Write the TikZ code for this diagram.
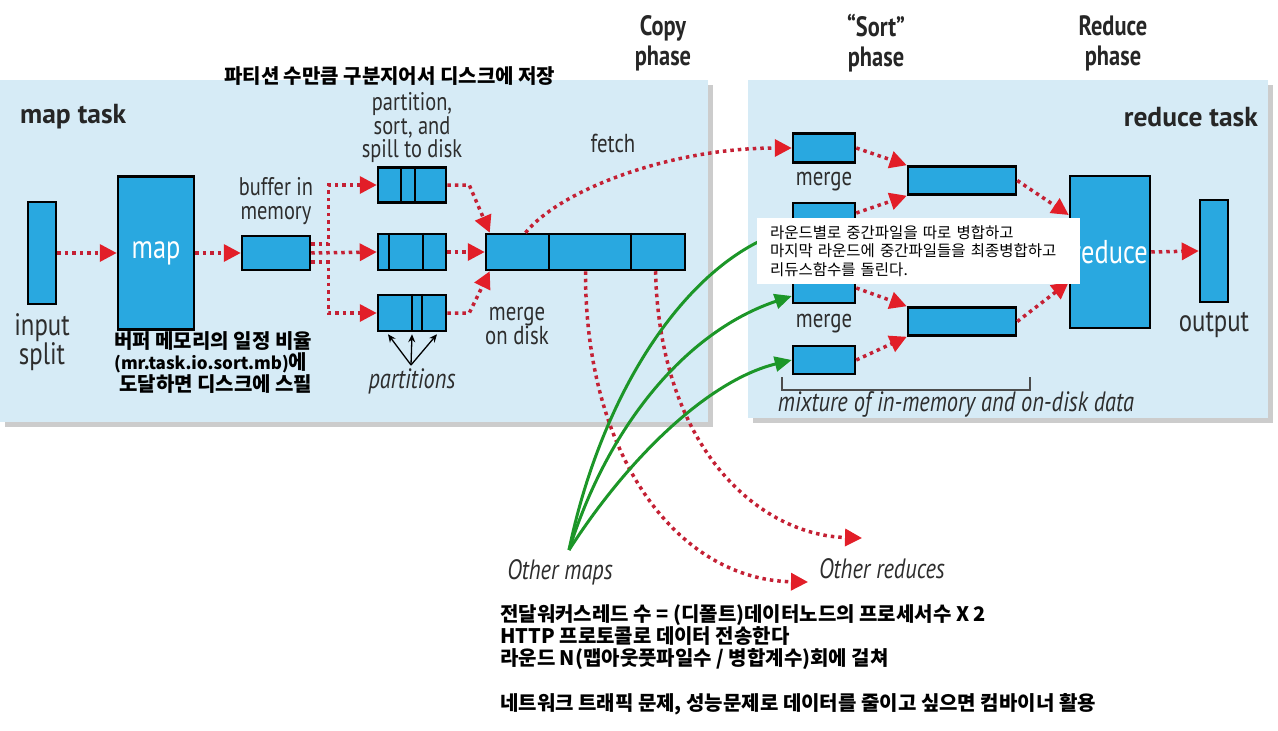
\documentclass[tikz,border=0pt]{standalone}
\usepackage{fontspec}
\setmainfont{PT Sans}[FakeStretch=0.8]
\newfontfamily\titlefont{PT Sans}
\newfontfamily\krfont{Noto Sans CJK KR}
\usetikzlibrary{arrows.meta,shadows}
\definecolor{panelBlue}{RGB}{214,235,246}
\definecolor{boxBlue}{RGB}{41,168,224}
\definecolor{dotRed}{RGB}{196,32,52}
\definecolor{tipRed}{RGB}{226,30,40}
\definecolor{arrowGreen}{RGB}{28,150,40}
\definecolor{labelGray}{RGB}{45,45,45}

\begin{document}
\begin{tikzpicture}
[x=1pt, y=-1pt,
 panelDecorate/.style={fill=panelBlue, inner sep=0pt, drop shadow={shadow xshift=5pt, shadow yshift=-5pt, fill=black!40}},
 boxDecorate/.style={draw=black, line width=2.5pt, fill=boxBlue, inner sep=0pt},
 dotDecorate/.style={draw=dotRed, line width=3.5pt, dash pattern=on 3.5pt off 4pt, -{Triangle[length=17pt,width=17pt,color=tipRed]}},
 greenDecorate/.style={draw=arrowGreen, line width=3pt, -{Triangle[length=17pt,width=15pt]}},
 partDecorate/.style={draw=black, line width=1.3pt, -{Stealth[length=8pt,width=7pt]}},
 labelDecorate/.style={text=labelGray, align=center, inner sep=0pt, font=\fontsize{26}{23}\selectfont},
 bigDecorate/.style={labelDecorate, font=\fontsize{31}{27}\selectfont},
 italicDecorate/.style={labelDecorate, font=\fontsize{28}{23}\selectfont\itshape},
 phaseDecorate/.style={text=black!85, align=center, inner sep=0pt, font=\fontsize{28}{30}\selectfont\bfseries},
 titleDecorate/.style={text=black!85, inner sep=0pt, font=\titlefont\fontsize{27.5}{30}\selectfont\bfseries},
 krDecorate/.style={align=left, inner sep=0pt, anchor=north west, font={\krfont\fontsize{20}{22.3}\selectfont\bfseries}}]

 \useasboundingbox (0,0) rectangle (1278,731);

 % panels
 \node (mapPanel) [panelDecorate, minimum width=708pt, minimum height=342pt] at (354,251) {};
 \node (redPanel) [panelDecorate, minimum width=520pt, minimum height=338pt] at (1008,249) {};

 \node (mapTask) [titleDecorate, anchor=west] at (20,117) {map task};
 \node (reduceTask) [titleDecorate, anchor=east] at (1258,117) {reduce task};

 \node (copyPhase) [phaseDecorate] at (663,43) {Copy\\phase};
 \node (sortPhase) [phaseDecorate] at (876,43) {``Sort''\\phase};
 \node (reducePhase) [phaseDecorate] at (1113,43) {Reduce\\phase};

 % map side
 \node (split) [boxDecorate, minimum width=28pt, minimum height=102pt] at (42,253) {};
 \node (map) [boxDecorate, minimum width=76pt, minimum height=153pt, text=white, font=\fontsize{33}{30}\selectfont] at (156,253) {map};
 \node (buf) [boxDecorate, minimum width=68pt, minimum height=34pt] at (276,253) {};

 \node (sp1) [boxDecorate, minimum width=68pt, minimum height=35pt] at (412,185) {};
 \node (sp2) [boxDecorate, minimum width=68pt, minimum height=36pt] at (412,252) {};
 \node (sp3) [boxDecorate, minimum width=68pt, minimum height=36pt] at (412,313) {};
 \node (disk) [boxDecorate, minimum width=199pt, minimum height=36pt] at (585.5,252) {};

 \foreach \boxname/\dx in {sp1/-11, sp1/3, sp2/-23, sp2/11, sp3/0, sp3/10, disk/-36.5, disk/45.5}
 {
   \draw[line width=2.5pt] ([xshift=\dx pt]\boxname.north) -- ([xshift=\dx pt]\boxname.south);
 }

 \node (splitLabel) [bigDecorate] at (42,342) {input\\split};
 \node (bufLabel) [labelDecorate, font=\fontsize{25.5}{24}\selectfont] at (276,201) {buffer in\\memory};
 \node (spillLabel) [labelDecorate, font=\fontsize{25.5}{23.5}\selectfont] at (412,128) {partition,\\sort, and\\spill to disk};
 \node (diskLabel) [labelDecorate] at (517,326) {merge\\on disk};
 \node (partLabel) [italicDecorate] at (412,381) {partitions};
 \node (fetchLabel) [labelDecorate] at (613,143) {fetch};
 \coordinate (pconv) at (411,365);

 % reduce side
 \node (rm1) [boxDecorate, minimum width=62pt, minimum height=29pt] at (824,148) {};
 \node (rm2) [boxDecorate, minimum width=62pt, minimum height=100pt] at (824,253) {};
 \node (rm3) [boxDecorate, minimum width=62pt, minimum height=28pt] at (824,360) {};
 \node (mid1) [boxDecorate, minimum width=108pt, minimum height=28pt] at (962,180.5) {};
 \node (mid2) [boxDecorate, minimum width=108pt, minimum height=28pt] at (962,321.5) {};
 \node (red) [boxDecorate, minimum width=80pt, minimum height=152pt, text=white, font=\fontsize{33}{30}\selectfont] at (1110,252) {reduce};
 \node (out) [boxDecorate, minimum width=28pt, minimum height=102pt] at (1214,251) {};

 \node (rm1Label) [labelDecorate] at (824,182) {merge};
 \node (rm2Label) [labelDecorate] at (824,324) {merge};
 \node (outLabel) [bigDecorate] at (1214,325) {output};
 \node (mixLabel) [italicDecorate] at (956,404) {mixture of in-memory and on-disk data};
 \draw[line width=1.5pt, black!70] (782,377) -- (782,390) -- (1030,390) -- (1030,377);

 % outside
 \node (otherMaps) [italicDecorate] at (560,572) {Other maps};
 \node (otherReduces) [italicDecorate] at (882,569) {Other reduces};
 \coordinate (gsrc) at (569,550);
 \coordinate (oredA) at (808,582);
 \coordinate (oredB) at (862,538);

 % dotted arrows
 \draw[dotDecorate] (split) -- (map);
 \draw[dotDecorate] (map) -- (buf);
 \draw[dotDecorate] ([yshift=9pt]buf.east) -- ++(17,0) |- (sp1.west);
 \draw[dotDecorate] (buf.east) -- (sp2.west);
 \draw[dotDecorate] ([yshift=-9pt]buf.east) -- ++(17,0) |- (sp3.west);
 \draw[dotDecorate] (sp1.east) -- ++(22,0) -- ([xshift=5pt]disk.north west);
 \draw[dotDecorate] (sp2.east) -- (disk.west);
 \draw[dotDecorate] (sp3.east) -- ++(22,0) -- ([xshift=5pt]disk.south west);

 \draw[dotDecorate] ([xshift=-60pt]disk.north) .. controls (560,190) and (670,148) .. (rm1.west);
 \draw[dotDecorate] (disk.south) .. controls (585,460) and (680,580) .. (oredA);
 \draw[dotDecorate] ([xshift=70pt]disk.south) .. controls (660,450) and (760,535) .. (oredB);

 \draw[dotDecorate] (rm1.east) -- (mid1.north west);
 \draw[dotDecorate] ([yshift=40pt]rm2.east) -- (mid1.south west);
 \draw[dotDecorate] ([yshift=-35pt]rm2.east) -- (mid2.north west);
 \draw[dotDecorate] (rm3.east) -- (mid2.south west);
 \draw[dotDecorate] (mid1.east) -- ([yshift=37pt]red.west);
 \draw[dotDecorate] (mid2.east) -- ([yshift=-30pt]red.west);
 \draw[dotDecorate] (red.east) -- (out.west);

 % partitions
 \foreach \dx in {-24,0,25}
 {
   \draw[partDecorate] (pconv) -- ([xshift=\dx pt, yshift=-2pt]sp3.south);
 }

 % green arrows
 \draw[greenDecorate] (gsrc) .. controls (600,400) and (680,270) .. ([yshift=25pt]rm2.west);
 \draw[greenDecorate] (gsrc) .. controls (610,420) and (690,330) .. ([yshift=-43pt]rm2.west);
 \draw[greenDecorate] (gsrc) .. controls (630,455) and (710,380) .. (rm3.west);

 % korean notes
 \node (noteTop) [krDecorate, anchor=west] at (224,76) {파티션 수만큼 구분지어서 디스크에 저장};
 \node (noteSpill) [krDecorate, font={\krfont\fontsize{20}{21.5}\selectfont\bfseries}] at (114,331) {버퍼 메모리의 일정 비율\\{\fontsize{17}{21.5}\selectfont(mr.task.io.sort.mb)}에\\\hspace{5pt}도달하면 디스크에 스필};
 \node (noteRound) [fill=white, inner sep=0pt, minimum width=323pt, minimum height=66pt, text width=297pt, align=left, font={\krfont\fontsize{15.5}{18.5}\selectfont}] at (918.5,251) {라운드별로 중간파일을 따로 병합하고\\마지막 라운드에 중간파일들을 최종병합하고\\리듀스함수를 돌린다.};
 \node (noteBottom) [krDecorate] at (500,604) {전달워커스레드 수 = (디폴트)데이터노드의 프로세서수 X 2\\HTTP 프로토콜로 데이터 전송한다\\라운드 N(맵아웃풋파일수 / 병합계수)회에 걸쳐\\[22.3pt]네트워크 트래픽 문제, 성능문제로 데이터를 줄이고 싶으면 컴바이너 활용};

\end{tikzpicture}
\end{document}
